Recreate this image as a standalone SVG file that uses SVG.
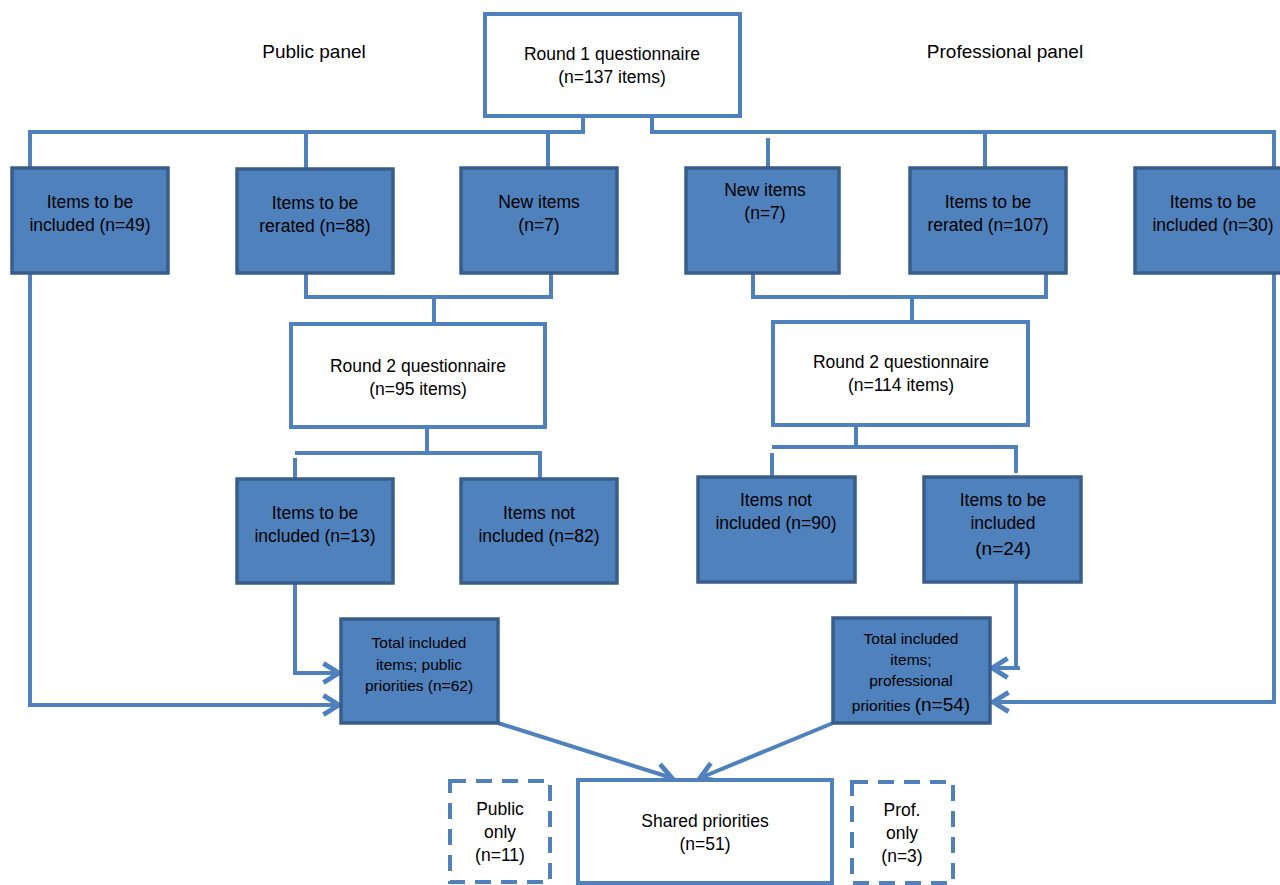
<svg xmlns="http://www.w3.org/2000/svg" width="1280" height="885" viewBox="0 0 1280 885">
<style>
text{font-family:"Liberation Sans",Arial,sans-serif;font-size:17.5px;fill:#000;text-anchor:middle}
.w{fill:#fff;stroke:#4F81BD;stroke-width:4}
.f{fill:#4F81BD;stroke:#385D8A;stroke-width:3.5}
.d{fill:#fff;stroke:#4F81BD;stroke-width:4;stroke-dasharray:16 10}
.c{fill:none;stroke:#4F81BD;stroke-width:4}
.s{font-size:15.5px}
.l{font-size:19px}
.b{font-size:19px}
</style>
<defs>
<marker id="ah" markerUnits="userSpaceOnUse" markerWidth="24" markerHeight="24" refX="17" refY="10" orient="auto" viewBox="0 0 20 20">
<path d="M4,2 L17,10 L4,18" fill="none" stroke="#4F81BD" stroke-width="4"/>
</marker>
</defs>
<g id="connectors">
<path class="c" d="M583,116 V132 H30 V168"/>
<path class="c" d="M306,132 V168"/>
<path class="c" d="M548,132 V168"/>
<path class="c" d="M652,116 V132 H1274 V168"/>
<path class="c" d="M768,138 V168"/>
<path class="c" d="M985,132 V168"/>
<path class="c" d="M306,273 V297 H551 V273"/>
<path class="c" d="M434,297 V324"/>
<path class="c" d="M753,273 V297 H1046 V273"/>
<path class="c" d="M912,297 V322"/>
<path class="c" d="M427,427 V453 H540 V479"/>
<path class="c" d="M427,453 H295"/>
<path class="c" d="M295,458 V479"/>
<path class="c" d="M856,425 V447 H1016 V473"/>
<path class="c" d="M856,447 H772"/>
<path class="c" d="M772,453 V477"/>
<path class="c" d="M295,583 V673 H339" marker-end="url(#ah)"/>
<path class="c" d="M30,273 V705 H339" marker-end="url(#ah)"/>
<path class="c" d="M1016,582 V668 H992" marker-end="url(#ah)"/>
<path class="c" d="M1020,668 H1010"/>
<path class="c" d="M1274,273 V702 H993" marker-end="url(#ah)"/>
<path class="c" d="M498,723 L672,778" marker-end="url(#ah)"/>
<path class="c" d="M833,723 L700,778" marker-end="url(#ah)"/>
</g>
<g id="label-public"><text class="l" x="314" y="58">Public panel</text></g>
<g id="label-prof"><text class="l" x="1005" y="58">Professional panel</text></g>
<g id="round1">
<rect class="w" x="485" y="14" width="255" height="102"/>
<text x="612" y="60">Round 1 questionnaire</text>
<text x="612" y="83">(n=137 items)</text>
</g>
<g id="pub-included">
<rect class="f" x="12" y="168" width="156" height="105"/>
<text x="90" y="208">Items to be</text>
<text x="90" y="231">included (n=49)</text>
</g>
<g id="pub-rerated">
<rect class="f" x="237" y="169" width="156" height="104"/>
<text x="315" y="209">Items to be</text>
<text x="315" y="232">rerated (n=88)</text>
</g>
<g id="pub-new">
<rect class="f" x="461" y="168" width="156" height="105"/>
<text x="539" y="208">New items</text>
<text x="539" y="231">(n=7)</text>
</g>
<g id="prof-new">
<rect class="f" x="686" y="168" width="153" height="105"/>
<text x="765" y="196">New items</text>
<text x="765" y="219">(n=7)</text>
</g>
<g id="prof-rerated">
<rect class="f" x="910" y="168" width="156" height="105"/>
<text x="988" y="208">Items to be</text>
<text x="988" y="231">rerated (n=107)</text>
</g>
<g id="prof-included">
<rect class="f" x="1135" y="168" width="150" height="105"/>
<text x="1213" y="208">Items to be</text>
<text x="1213" y="231">included (n=30)</text>
</g>
<g id="pub-round2">
<rect class="w" x="291" y="324" width="254" height="103"/>
<text x="418" y="372">Round 2 questionnaire</text>
<text x="418" y="395">(n=95 items)</text>
</g>
<g id="prof-round2">
<rect class="w" x="773" y="322" width="255" height="103"/>
<text x="901" y="368">Round 2 questionnaire</text>
<text x="901" y="391">(n=114 items)</text>
</g>
<g id="pub-r2-included">
<rect class="f" x="237" y="479" width="156" height="104"/>
<text x="315" y="519">Items to be</text>
<text x="315" y="542">included (n=13)</text>
</g>
<g id="pub-r2-not">
<rect class="f" x="461" y="479" width="156" height="104"/>
<text x="539" y="519">Items not</text>
<text x="539" y="542">included (n=82)</text>
</g>
<g id="prof-r2-not">
<rect class="f" x="698" y="477" width="157" height="105"/>
<text x="776" y="506">Items not</text>
<text x="776" y="529">included (n=90)</text>
</g>
<g id="prof-r2-included">
<rect class="f" x="924" y="477" width="157" height="105"/>
<text x="1003" y="506">Items to be</text>
<text x="1003" y="529">included</text>
<text class="b" x="1003" y="555">(n=24)</text>
</g>
<g id="pub-total">
<rect class="f" x="341" y="619" width="157" height="104"/>
<text class="s" x="419" y="648">Total included</text>
<text class="s" x="419" y="670">items; public</text>
<text class="s" x="419" y="691">priorities (n=62)</text>
</g>
<g id="prof-total">
<rect class="f" x="833" y="618" width="157" height="105"/>
<text class="s" x="911" y="644">Total included</text>
<text class="s" x="911" y="665">items;</text>
<text class="s" x="911" y="686">professional</text>
<text class="s" x="911" y="711">priorities <tspan class="b">(n=54)</tspan></text>
</g>
<g id="public-only">
<rect class="d" x="450" y="781" width="100" height="101"/>
<text x="500" y="815">Public</text>
<text x="500" y="838">only</text>
<text x="500" y="861">(n=11)</text>
</g>
<g id="shared">
<rect class="w" x="578" y="780" width="254" height="103"/>
<text x="705" y="827">Shared priorities</text>
<text x="705" y="850">(n=51)</text>
</g>
<g id="prof-only">
<rect class="d" x="852" y="782" width="101" height="101"/>
<text x="902" y="816">Prof.</text>
<text x="902" y="839">only</text>
<text x="902" y="862">(n=3)</text>
</g>
</svg>
